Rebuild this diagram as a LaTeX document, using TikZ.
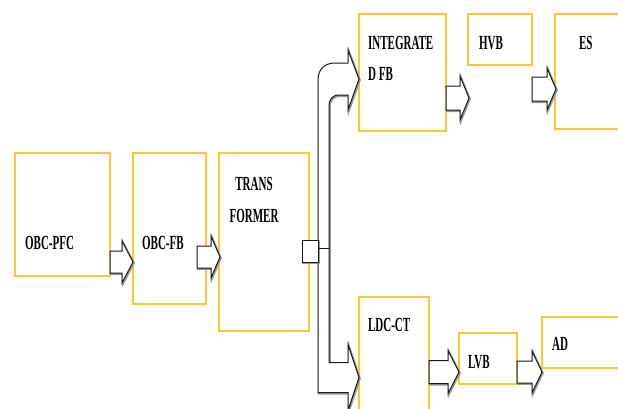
\documentclass[tikz,border=0pt]{standalone}
\usepackage{fontspec}
\setmainfont{Liberation Serif}
\usetikzlibrary{positioning,calc}
\definecolor{boxgold}{RGB}{252,200,50}
\newcommand{\blkarrow}[5]{%
  \draw[blk] let \p1=#1, \p2=#2 in
    (\x1,\y2+#3) -- (\x2-#5,\y2+#3) -- (\x2-#5,\y2+#4) -- (\p2)
    -- (\x2-#5,\y2-#4) -- (\x2-#5,\y2-#3) -- (\x1,\y2-#3) -- cycle;}

\begin{document}
\begin{tikzpicture}[
  x=1pt, y=-1pt,
  box/.style={rectangle, draw=boxgold, line width=1.3pt,
    inner sep=0pt, outer sep=0pt, anchor=north west},
  lbl/.style={font=\fontsize{20}{31.5}\selectfont\bfseries,
    inner sep=0pt, xscale=0.55},
  blk/.style={draw=black!90, line width=1pt, fill=white,
    preaction={draw=black!40, line width=2pt,
      transform canvas={shift={(0.8pt,-1pt)}}}}
]
\useasboundingbox (0,0) rectangle (618,408);
\clip (0,0) rectangle (618,408);
\node[box, minimum width=95pt, minimum height=123pt] (pfc) at (15,153) {};
\node[box, minimum width=73pt, minimum height=151pt,
  right=23pt of pfc.north east, anchor=north west] (fb) {};
\node[box, minimum width=90pt, minimum height=178pt,
  right=13pt of fb.north east, anchor=north west] (tr) {};
\node[box, minimum width=87pt, minimum height=117pt] (ifb) at (359,14) {};
\node[box, minimum width=64pt, minimum height=51pt,
  right=22pt of ifb.north east, anchor=north west] (hvb) {};
\node[box, minimum width=70pt, minimum height=115pt,
  right=23pt of hvb.north east, anchor=north west] (es) {};
\node[box, minimum width=70pt, minimum height=125pt] (ldc) at (359,297) {};
\node[box, minimum width=58pt, minimum height=51pt] (lvb) at (459,333) {};
\node[box, minimum width=80pt, minimum height=51pt] (ad) at (542,317) {};
\node[lbl, anchor=west] (tpfc) at ([shift={(10,90)}]pfc.north west) {OBC-PFC};
\node[lbl, anchor=west] (tfb) at ([shift={(9,90)}]fb.north west) {OBC-FB};
\node[lbl, align=center] (ttr) at ([shift={(35,47)}]tr.north west) {TRANS\\FORMER};
\node[lbl, align=left, anchor=west] (tifb) at ([shift={(9,44.5)}]ifb.north west) {INTEGRATE\\D FB};
\node[lbl, anchor=west] (thvb) at ([shift={(11,29)}]hvb.north west) {HVB};
\node[lbl, anchor=west] (tes) at ([shift={(24,29)}]es.north west) {ES};
\node[lbl, anchor=west] (tldc) at ([shift={(9,28)}]ldc.north west) {LDC-CT};
\node[lbl, anchor=west] (tlvb) at ([shift={(9,29)}]lvb.north west) {LVB};
\node[lbl, anchor=west] (tad) at ([shift={(10,27)}]ad.north west) {AD};
\blkarrow{(pfc.east)}{([yshift=-33.5pt]fb.west)}{11}{21}{11}
\blkarrow{([xshift=-9pt]fb.east)}{([shift={(1pt,-15pt)}]tr.west)}{11}{21}{9}
\blkarrow{(ifb.east)}{([shift={(1pt,-58.5pt)}]hvb.west)}{12}{22}{9}
\blkarrow{(hvb.east)}{([shift={(1pt,-17.5pt)}]es.west)}{12}{21}{9}
\blkarrow{(ldc.east)}{([yshift=-13.5pt]lvb.west)}{11.5}{21.5}{11}
\blkarrow{(lvb.east)}{([yshift=-29.5pt]ad.west)}{11}{21}{10}
\coordinate (trunk) at ([xshift=9pt]tr.east);
\coordinate (ifbin) at ([yshift=-6.5pt]ifb.west);
\coordinate (ldcin) at ([yshift=-18pt]ldc.west);
\draw[blk] let \p1=(trunk), \p2=(ifbin), \p3=(ldcin) in
  (\x1,\y3-15) -- (\x1,\y2-1)
  .. controls (\x1,\y2+10) and (\x1+7,\y2+16) .. (\x1+17,\y2+16)
  -- (\x2-11,\y2+16) -- (\x2-11,\y2+29) -- (\p2) -- (\x2-11,\y2-31)
  -- (\x2-11,\y2-16) -- (\x1+22,\y2-16)
  .. controls (\x1+14,\y2-16) and (\x1+11,\y2-20) .. (\x1+11,\y2-28)
  -- (\x1+11,\y3+15) -- (\x3-11,\y3+15) -- (\x3-11,\y3+33) -- (\p3)
  -- (\x3-11,\y3-33) -- (\x3-11,\y3-15) -- cycle;
\draw[blk] ([shift={(-7pt,2pt)}]tr.east) rectangle ++(16,22);
\draw[draw=black!90, line width=1pt] ([yshift=-6pt]trunk) -- ++(11,0);
\end{tikzpicture}
\end{document}
